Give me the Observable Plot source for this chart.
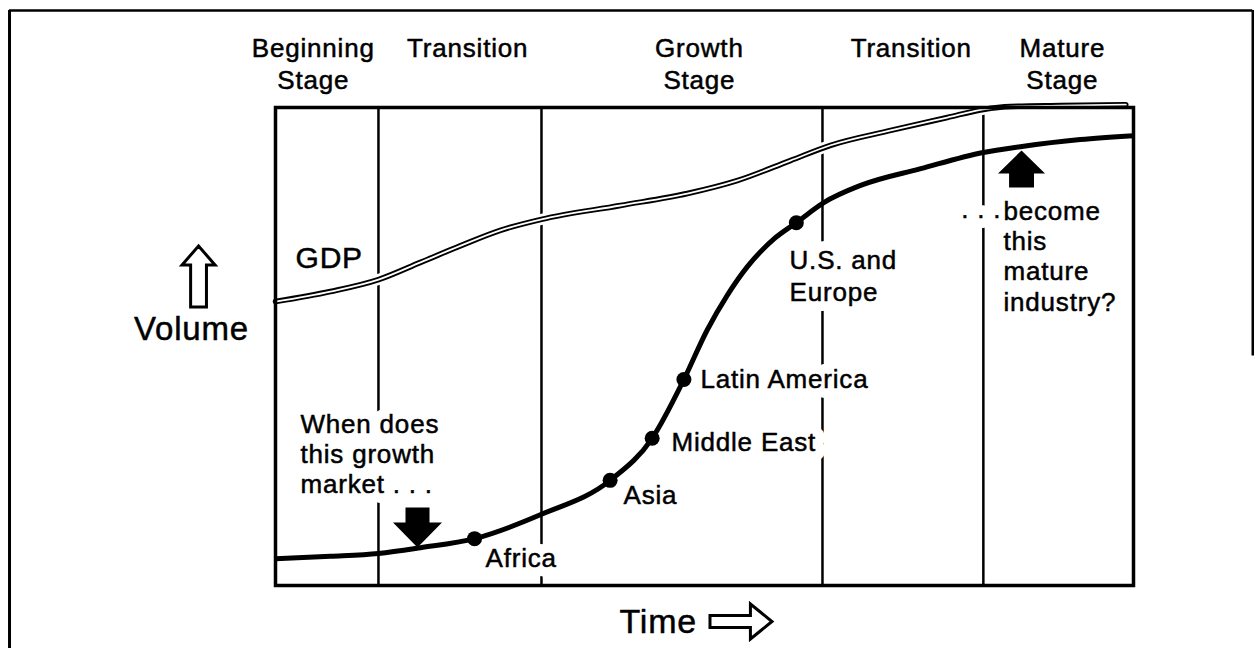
<!DOCTYPE html>
<html><head><meta charset="utf-8">
<script src="https://cdn.jsdelivr.net/npm/d3@7"></script>
<script src="https://cdn.jsdelivr.net/npm/@observablehq/plot@0.6"></script>
<style>
html,body{margin:0;padding:0;background:#fff;}
#chart svg{display:block;}
#chart text{letter-spacing:0.8px;}
</style></head><body><div id="chart"></div>
<script>
// ---- data (time and volume in index units 0-100) ----
const stageNames = ["Beginning\nStage", "Transition", "Growth\nStage", "Transition", "Mature\nStage"];
const stageLabelTime = [4.4, 22.4, 49.4, 74.1, 91.7];
const stageBounds = [12.0, 31.0, 63.75, 82.5];

const curveTime   = [0, 6.4, 12.0, 16.9, 23.2, 31.0, 39.0, 43.9, 47.6, 50.3, 52.65, 55.0, 58.1, 60.7, 63.9, 68.2, 75.2, 82.5, 86.8, 93.8, 100];
const curveVolume = [5.6, 6.1, 6.7, 7.9, 9.8, 14.9, 22.0, 30.8, 43.1, 53.4, 60.7, 66.7, 72.5, 75.9, 80.1, 83.7, 87.2, 90.6, 91.8, 93.3, 94.1];

const gdpTime   = [0, 6.4, 12.0, 16.9, 21.6, 26.2, 31.0, 40.2, 48.0, 53.8, 60.0, 64.7, 71.7, 78.3, 82.5, 85.7, 91.5, 99.1];
const gdpVolume = [59.4, 61.5, 64.0, 67.6, 71.1, 74.3, 76.6, 79.5, 82.0, 84.7, 88.9, 92.1, 95.2, 97.9, 99.6, 100.2, 100.4, 100.6];

const regionNames  = ["Africa", "Asia", "Middle East", "Latin America", "U.S. and\nEurope"];
const regionTime   = [23.2, 39.0, 43.9, 47.6, 60.7];
const regionVolume = [9.8, 22.0, 30.8, 43.1, 75.9];
const regionLabelTime   = [24.48, 40.56, 46.15, 49.53, 59.91];
const regionLabelVolume = [3.77, 17.15, 28.24, 41.42, 59.62];

const questionTexts  = ["When does\nthis growth\nmarket . . .", "become\nthis\nmature\nindustry?"];
const questionTime   = [2.91, 84.85];
const questionVolume = [19.25, 57.53];
const ellipsisText = [". . ."];
const ellipsisTime = [84.6];
const ellipsisVolume = [76.78];

// ---- helpers ----
const FONT = "'Liberation Sans', Arial, Helvetica, sans-serif";
function blockArrow(rot, tip, headBase, tail, headHalf, shaftHalf) {
  const pts = [[0, -tip], [headHalf, headBase], [shaftHalf, headBase], [shaftHalf, tail],
               [-shaftHalf, tail], [-shaftHalf, headBase], [-headHalf, headBase]];
  const c = Math.cos(rot * Math.PI / 180), s = Math.sin(rot * Math.PI / 180);
  return {draw(ctx, size) {
    const r = Math.sqrt(size / Math.PI);
    pts.forEach(([x, y], i) => {
      const X = (x * c - y * s) * r, Y = (x * s + y * c) * r;
      i ? ctx.lineTo(X, Y) : ctx.moveTo(X, Y);
    });
    ctx.closePath();
  }};
}
const arrowDownFilled = blockArrow(180, 0.82, 0.2, 0.82, 1, 0.49);
const arrowUpFilled   = blockArrow(0, 0.79, 0.19, 0.79, 1, 0.53);
const arrowUpOutline  = blockArrow(0, 1.85, -0.70, 1.85, 1, 0.48);
const arrowRightOutline = blockArrow(90, 1.77, -0.54, 1.77, 1, 0.34);

const ink = {fill: "black", stroke: "black", strokeWidth: 0.5, fontFamily: FONT};
const haloStyle = {fill: "white", stroke: "white", strokeWidth: 20, strokeLinejoin: "round", fontFamily: FONT};
const one = [0];

// labels inside the frame: white halos (cutting the lines beneath) drawn first, ink on top
const labelSpecs = [
  [["GDP"], {x: 2.33, y: 66.32, text: d => d, textAnchor: "start", lineAnchor: "bottom", fontSize: 30}],
  [questionTexts, {x: questionTime, y: questionVolume, text: d => d, textAnchor: "start", lineAnchor: "bottom", lineHeight: 1.16, fontSize: 26}],
  [ellipsisText, {x: ellipsisTime, y: ellipsisVolume, text: d => d, textAnchor: "end", lineAnchor: "bottom", fontSize: 26}],
  [regionNames, {x: regionLabelTime, y: regionLabelVolume, text: d => d, textAnchor: "start", lineAnchor: "bottom", lineHeight: 1.23, fontSize: 26}]
];
const halos = labelSpecs.map(([d, o]) => Plot.text(d, {...o, ...haloStyle}));
const inks  = labelSpecs.map(([d, o]) => Plot.text(d, {...o, ...ink}));

const plot = Plot.plot({
  width: 1255, height: 648,
  marginLeft: 275, marginRight: 122, marginTop: 107, marginBottom: 63,
  x: {domain: [0, 100], axis: null},
  y: {domain: [0, 100], axis: null},
  style: {background: "white", fontFamily: FONT},
  marks: [
    // scanned page border
    Plot.ruleX(one, {x: -31.0, y1: 120.3, y2: -13.2, strokeWidth: 3}),
    Plot.ruleY(one, {y: 120.3, x1: -31.0, x2: 113.9, strokeWidth: 2.5}),
    Plot.ruleX(one, {x: 113.9, y1: 120.3, y2: 48, strokeWidth: 2.5}),
    // stage boundaries
    Plot.ruleX(stageBounds, {x: d => d, y1: 0, y2: 100, strokeWidth: 2.5}),
    // GDP double line
    Plot.line(gdpTime, {x: gdpTime, y: gdpVolume, curve: "monotone-x", stroke: "white", strokeWidth: 11}),
    Plot.line(gdpTime, {x: gdpTime, y: gdpVolume, curve: "monotone-x", stroke: "black", strokeWidth: 5.5}),
    Plot.line(gdpTime, {x: gdpTime, y: gdpVolume, curve: "monotone-x", stroke: "white", strokeWidth: 1.8}),
    Plot.frame({strokeWidth: 3.5}),
    // stage labels
    Plot.text(stageNames, {x: stageLabelTime, y: 115.1, text: d => d, textAnchor: "middle", lineAnchor: "top", lineHeight: 1.2, fontSize: 26, ...ink}),
    ...halos,
    ...inks,
    // axis titles
    Plot.text(["Volume"], {x: -9.79, y: 51.26, text: d => d, textAnchor: "middle", lineAnchor: "bottom", fontSize: 33, ...ink}),
    Plot.text(["Time"], {x: 40.09, y: -10.04, text: d => d, textAnchor: "start", lineAnchor: "bottom", fontSize: 34, ...ink}),
    // industry S-curve
    Plot.line(curveTime, {x: curveTime, y: curveVolume, curve: "monotone-x", stroke: "black", strokeWidth: 5, strokeLinecap: "butt"}),
    Plot.dot(regionNames, {x: regionTime, y: regionVolume, r: 7.5, fill: "black", stroke: "none"}),
    // arrows
    Plot.dot(one, {x: 16.55, y: 12.13, r: 24.5, symbol: arrowDownFilled, fill: "black", stroke: "none"}),
    Plot.dot(one, {x: 86.95, y: 87.13, r: 23.5, symbol: arrowUpFilled, fill: "black", stroke: "none"}),
    Plot.dot(one, {x: -8.97, y: 64.64, r: 16.5, symbol: arrowUpOutline, fill: "white", stroke: "black", strokeWidth: 3}),
    Plot.dot(one, {x: 54.25, y: -7.53, r: 17.5, symbol: arrowRightOutline, fill: "white", stroke: "black", strokeWidth: 3})
  ]
});
document.getElementById("chart").appendChild(plot);
</script>
</body></html>
